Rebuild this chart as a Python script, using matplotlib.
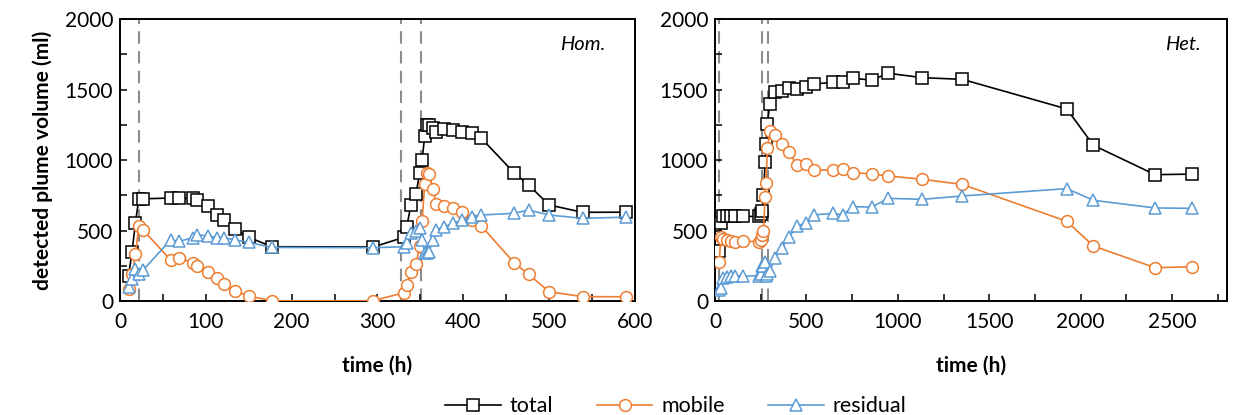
import numpy as np
import matplotlib.pyplot as plt
from matplotlib.ticker import MultipleLocator

plt.rcParams["font.family"] = ["Lato", "DejaVu Sans"]

# --- homogeneous case ---
hom_time = [10, 14, 18, 22, 27, 59, 69, 85, 90, 102, 113, 121, 134, 150, 177, 295,
            331, 334, 339, 345, 349, 352, 355, 358, 360, 365, 368, 378, 388, 399,
            410, 421, 459, 476, 500, 539, 590]
hom_total = [180, 345, 555, 725, 725, 730, 730, 728, 716, 671, 610, 574, 508, 452, 385, 383,
             452, 523, 683, 757, 910, 1000, 1170, 1248, 1248, 1225, 1196, 1218, 1213, 1201,
             1189, 1154, 910, 823, 681, 629, 630]
hom_mobile = [87, 190, 330, 534, 503, 291, 303, 272, 248, 208, 161, 121, 71, 35, 2, 2,
              59, 113, 203, 260, 390, 570, 828, 910, 900, 794, 686, 674, 662, 629,
              574, 532, 272, 189, 66, 31, 30]
hom_residual = [97, 155, 225, 189, 220, 433, 423, 449, 468, 463, 449, 449, 433, 416, 380, 378,
                385, 409, 480, 496, 520, 430, 342, 342, 350, 431, 503, 527, 551, 574,
                598, 610, 622, 645, 610, 586, 595]
hom_events = [22, 327, 351]

# --- heterogeneous case ---
het_time = [24, 31, 45, 64, 86, 109, 151, 243, 252, 258, 265, 274, 279, 286, 300, 328,
            365, 407, 447, 498, 542, 644, 698, 757, 857, 948, 1134, 1353, 1924, 2070,
            2407, 2608]
het_total = [357, 551, 603, 600, 600, 600, 600, 600, 620, 640, 752, 988, 1110, 1255, 1400, 1485,
             1488, 1510, 1501, 1520, 1540, 1550, 1550, 1579, 1567, 1615, 1584, 1572, 1362, 1104,
             896, 900]
het_mobile = [279, 456, 440, 430, 425, 420, 425, 420, 430, 470, 500, 740, 835, 1083, 1206, 1177,
              1110, 1056, 966, 970, 929, 929, 938, 910, 901, 887, 863, 827, 565, 390,
              236, 243]
het_residual = [78, 95, 163, 170, 175, 180, 175, 180, 190, 250, 250, 275, 175, 195, 210, 308,
                378, 454, 535, 550, 611, 621, 612, 669, 666, 728, 721, 745, 797, 714,
                660, 657]
het_events = [22, 258, 288]

BLACK = "black"
ORANGE = "#ED7D31"
BLUE = "#5B9BD5"
FS = 15


def draw_panel(ax, t, total, mobile, residual, events, xmax, xmajor, xminor, tag, tag_x):
    for ev in events:
        ax.axvline(ev, color="#8c8c8c", lw=1.5, ls=(0, (6, 3.5)), zorder=1)
    ax.plot(t, total, color=BLACK, lw=1.2, marker="s", ms=8.5, mfc="white",
            mec=BLACK, mew=1.1, label="total", zorder=3)
    ax.plot(t, mobile, color=ORANGE, lw=1.2, marker="o", ms=8.5, mfc="white",
            mec=ORANGE, mew=1.1, label="mobile", zorder=4)
    ax.plot(t, residual, color=BLUE, lw=1.2, marker="^", ms=8.5, mfc="white",
            mec=BLUE, mew=1.1, label="residual", zorder=5)
    ax.set_xlim(0, xmax)
    ax.set_ylim(0, 2000)
    ax.xaxis.set_major_locator(MultipleLocator(xmajor))
    ax.xaxis.set_minor_locator(MultipleLocator(xminor))
    ax.yaxis.set_major_locator(MultipleLocator(500))
    ax.yaxis.set_minor_locator(MultipleLocator(250))
    ax.tick_params(which="both", direction="in", length=5, width=1.1,
                   labelsize=FS, pad=5)
    ax.tick_params(axis="x", which="both", pad=8)
    for sp in ax.spines.values():
        sp.set_linewidth(1.4)
    ax.set_xlabel("time (h)", fontsize=FS, fontweight="bold", labelpad=17)
    ax.text(tag_x, 0.908, tag, transform=ax.transAxes, ha="right", va="center",
            fontsize=14.5, fontstyle="italic")


fig = plt.figure(figsize=(12.33, 4.15), dpi=100)
ax1 = fig.add_axes([0.0973, 0.2747, 0.4177, 0.6795])
ax2 = fig.add_axes([0.5799, 0.2747, 0.4152, 0.6795])

draw_panel(ax1, hom_time, hom_total, hom_mobile, hom_residual, hom_events,
           600, 100, 50, "Hom.", 0.943)
draw_panel(ax2, het_time, het_total, het_mobile, het_residual, het_events,
           2800, 500, 250, "Het.", 0.948)
ax2.set_xticks([0, 500, 1000, 1500, 2000, 2500])

ax1.set_ylabel("detected plume volume (ml)", fontsize=FS, fontweight="bold", labelpad=8)

handles, labels = ax1.get_legend_handles_labels()
fig.legend(handles, labels, loc="lower center", bbox_to_anchor=(0.548, -0.05),
           ncol=3, frameon=False, fontsize=15.5, columnspacing=2.0,
           handlelength=2.6, handletextpad=0.4)

fig.savefig("out.png", dpi=100)
